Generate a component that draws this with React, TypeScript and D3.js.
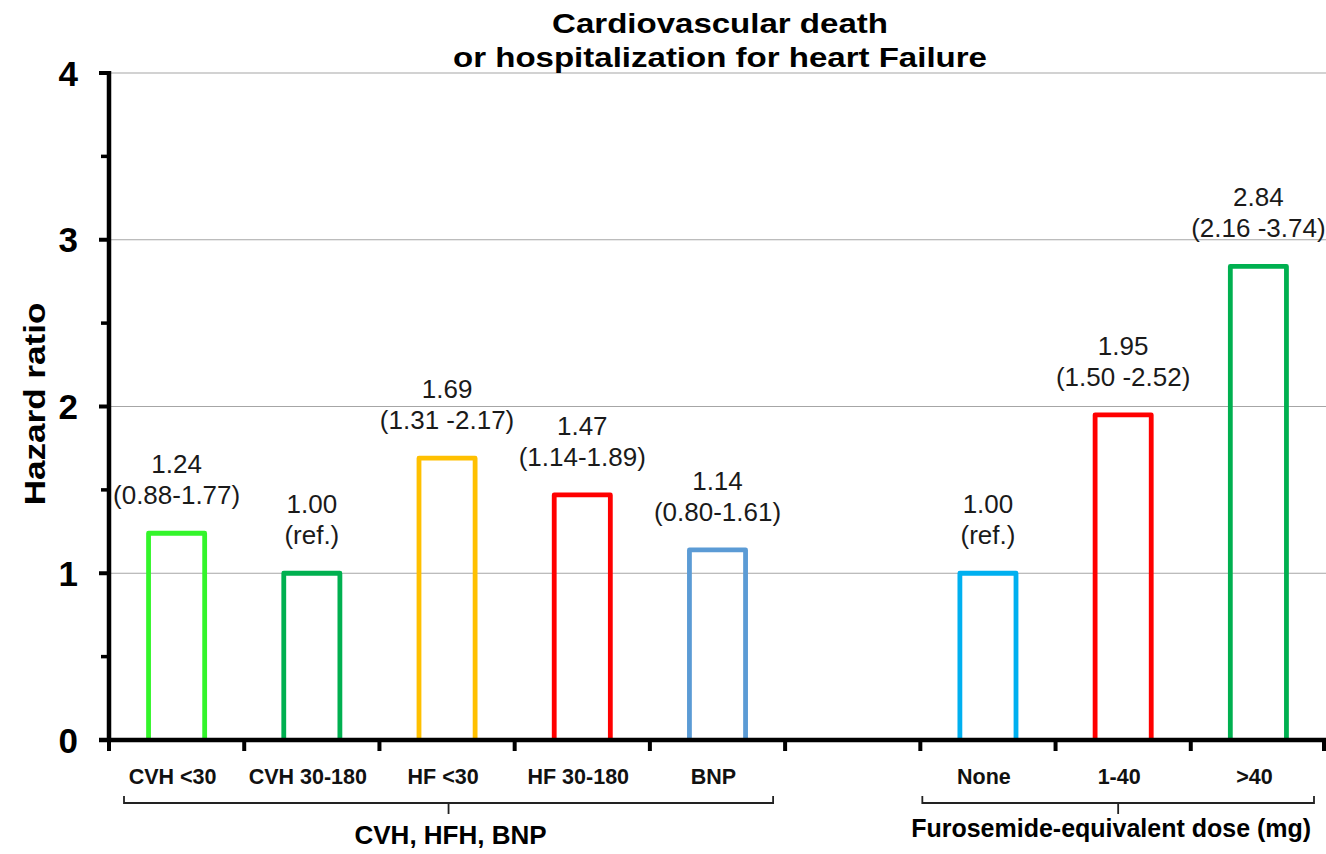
import React, { useEffect, useRef } from "react";
import * as d3 from "d3";

const categories = ["CVH <30", "CVH 30-180", "HF <30", "HF 30-180", "BNP", "", "None", "1-40", ">40"];
const values: (number | null)[] = [1.24, 1.0, 1.69, 1.47, 1.14, null, 1.0, 1.95, 2.84];
const valueLabels = ["1.24", "1.00", "1.69", "1.47", "1.14", "", "1.00", "1.95", "2.84"];
const ciLabels = ["(0.88-1.77)", "(ref.)", "(1.31 -2.17)", "(1.14-1.89)", "(0.80-1.61)", "", "(ref.)", "(1.50 -2.52)", "(2.16 -3.74)"];
const barColors = ["#33F52A", "#00B050", "#FFC000", "#FF0000", "#5B9BD5", "none", "#00B0F0", "#FF0000", "#00B050"];
const yTicks = [0, 1, 2, 3, 4];
const yMinorTicks = [0.5, 1.5, 2.5, 3.5];
const groups = [
  { label: "CVH, HFH, BNP", from: 0, to: 4 },
  { label: "Furosemide-equivalent dose (mg)", from: 6, to: 8 },
];
const titleLines = ["Cardiovascular death", "or hospitalization for heart Failure"];
const yTitle = "Hazard ratio";

export default function App() {
  const ref = useRef<SVGSVGElement>(null);
  useEffect(() => {
    document.body.style.margin = "0";
    const svg = d3.select(ref.current);
    svg.selectAll("*").remove();
    const left = 109, right = 1326, top = 73, bottom = 740;
    const font = "'Liberation Sans', Arial, sans-serif";
    const x = d3.scaleBand<number>().domain(d3.range(categories.length)).range([left, right]).paddingInner(0).paddingOuter(0);
    const y = d3.scaleLinear().domain([0, 4]).range([bottom, top]);
    const bw = x.bandwidth() * 0.415;

    // gridlines
    svg.append("g").selectAll("line").data(yTicks.filter(t => t > 0)).join("line")
      .attr("x1", left).attr("x2", right).attr("y1", d => y(d)).attr("y2", d => y(d))
      .attr("stroke", "#A6A6A6").attr("stroke-width", 1.2);

    // bars
    const idx = d3.range(categories.length).filter(i => values[i] !== null);
    svg.append("g").selectAll("path").data(idx).join("path")
      .attr("d", i => {
        const cx = x(i)! + x.bandwidth() / 2;
        const x0 = cx - bw / 2, x1 = cx + bw / 2;
        return `M${x0},${bottom}V${y(values[i] as number)}H${x1}V${bottom}`;
      })
      .attr("fill", "none").attr("stroke", i => barColors[i]).attr("stroke-width", 4.8)
      .attr("stroke-linejoin", "round");

    // labels
    const lab = svg.append("g").attr("font-family", font).attr("font-size", 26).attr("fill", "#1a1a1a").attr("text-anchor", "middle");
    idx.forEach(i => {
      const cx = x(i)! + x.bandwidth() / 2;
      const yt = y(values[i] as number);
      lab.append("text").attr("x", cx).attr("y", yt - 60).text(valueLabels[i]);
      lab.append("text").attr("x", cx).attr("y", yt - 29).text(ciLabels[i]);
    });

    // axes
    svg.append("line").attr("x1", left).attr("x2", left).attr("y1", top - 2).attr("y2", bottom + 2)
      .attr("stroke", "#000").attr("stroke-width", 4.5);
    svg.append("line").attr("x1", left - 10).attr("x2", right).attr("y1", bottom).attr("y2", bottom)
      .attr("stroke", "#000").attr("stroke-width", 4.5);
    svg.append("g").selectAll("line").data(yTicks).join("line")
      .attr("x1", left - 10).attr("x2", left).attr("y1", d => y(d)).attr("y2", d => y(d))
      .attr("stroke", "#000").attr("stroke-width", 4);
    svg.append("g").selectAll("line").data(yMinorTicks).join("line")
      .attr("x1", left - 8).attr("x2", left).attr("y1", d => y(d)).attr("y2", d => y(d))
      .attr("stroke", "#000").attr("stroke-width", 3.5);
    const bounds = d3.range(categories.length + 1).map(i => (i < categories.length ? x(i)! : right));
    svg.append("g").selectAll("line").data(bounds).join("line")
      .attr("x1", d => Math.min(d, right - 2)).attr("x2", d => Math.min(d, right - 2)).attr("y1", bottom).attr("y2", bottom + 11)
      .attr("stroke", "#000").attr("stroke-width", 4);

    // y tick labels
    svg.append("g").selectAll("text").data(yTicks).join("text")
      .attr("x", 78).attr("y", d => y(d)).attr("dy", "0.36em").attr("text-anchor", "end")
      .attr("font-family", font).attr("font-size", 35).attr("font-weight", "bold").attr("fill", "#000")
      .text(d => String(d));

    // y title
    svg.append("text").attr("transform", `translate(45,404) rotate(-90) scale(1.17,1)`).attr("text-anchor", "middle")
      .attr("font-family", font).attr("font-size", 30).attr("font-weight", "bold").attr("fill", "#000").text(yTitle);

    // x labels
    svg.append("g").selectAll("text").data(d3.range(categories.length)).join("text")
      .attr("x", i => x(i)! + x.bandwidth() / 2 - 4).attr("y", 784).attr("text-anchor", "middle")
      .attr("font-family", font).attr("font-size", 21.5).attr("font-weight", "bold").attr("fill", "#111")
      .text(i => categories[i]);

    // brackets
    groups.forEach((g, gi) => {
      const x0 = x(g.from)! + (gi === 1 ? 2 : 15);
      const x1 = x(g.to)! + x.bandwidth() - 12;
      const xm = (x0 + x1) / 2;
      const yb = 803;
      svg.append("path").attr("d", `M${x0},${yb - 7}V${yb}H${x1}V${yb - 7}M${xm},${yb}V${yb + 11}`)
        .attr("fill", "none").attr("stroke", "#222").attr("stroke-width", 1.8);
      svg.append("text").attr("x", xm - (gi === 1 ? 7 : -2)).attr("y", gi === 1 ? 837 : 844).attr("text-anchor", "middle")
        .attr("font-family", font).attr("font-size", gi === 1 ? 25 : 26).attr("font-weight", "bold").attr("fill", "#000").text(g.label);
    });

    // title
    svg.append("g").selectAll("text").data(titleLines).join("text")
      .attr("transform", (d, i) => `translate(720,${33 + i * 34}) scale(1.18,1)`).attr("text-anchor", "middle")
      .attr("font-family", font).attr("font-size", 28).attr("font-weight", "bold").attr("fill", "#000")
      .text(d => d);
  }, []);
  return <svg ref={ref} width={1326} height={854} style={{ display: "block", background: "#fff" }} />;
}
